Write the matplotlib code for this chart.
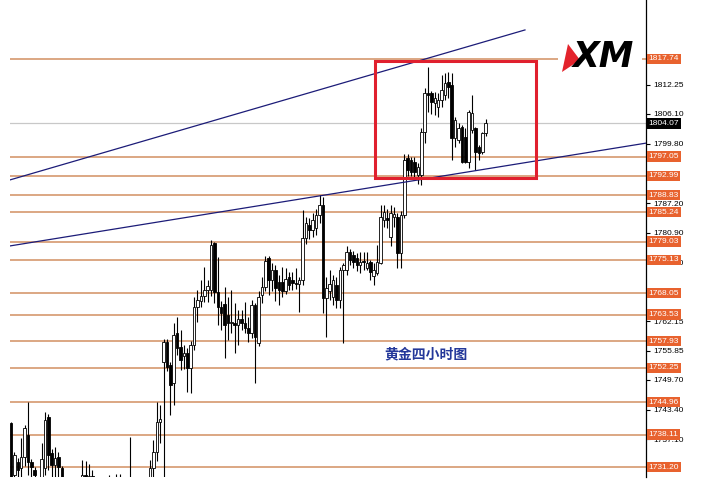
import matplotlib
matplotlib.use("Agg")
import matplotlib.pyplot as plt
from matplotlib.patches import Rectangle, Polygon

# 4h gold candles
opens = [1740.5, 1729.5, 1732.3, 1731.0, 1733.3, 1738.0, 1732.3, 1730.6, 1729.0, 1727.5,
         1731.0, 1741.8, 1734.2, 1731.6, 1733.3, 1731.0, 1727.0, 1725.5, 1726.5, 1725.0,
         1726.0, 1727.0, 1729.5, 1728.5, 1729.3, 1728.3, 1727.0, 1726.0, 1727.5, 1726.5,
         1728.0, 1727.5, 1728.5, 1727.8, 1726.8, 1727.0, 1729.0, 1727.5, 1727.0, 1727.8,
         1727.0, 1727.8, 1731.0, 1734.4, 1740.7, 1753.5, 1757.8, 1752.8, 1749.0, 1759.6,
         1756.6, 1754.7, 1755.4, 1752.2, 1757.1, 1765.1, 1766.4, 1767.5, 1768.8, 1768.8,
         1778.7, 1768.3, 1765.1, 1765.7, 1763.4, 1761.7, 1761.8, 1761.3, 1762.6, 1761.8,
         1760.7, 1759.6, 1765.6, 1757.6, 1767.7, 1769.4, 1775.5, 1770.9, 1773.0, 1770.5,
         1770.5, 1768.5, 1771.5, 1770.8, 1770.2, 1770.0, 1770.8, 1779.8, 1782.5, 1781.5,
         1782.0, 1784.7, 1786.8, 1767.0, 1768.5, 1767.2, 1769.8, 1766.6, 1773.0, 1773.0,
         1776.8, 1776.1, 1775.5, 1774.0, 1774.9, 1773.4, 1774.7, 1771.8, 1772.3, 1774.5,
         1783.6, 1784.0, 1780.0, 1784.2, 1784.2, 1776.6, 1784.6, 1796.7, 1796.3, 1795.9,
         1793.1, 1793.1, 1802.3, 1810.5, 1810.5, 1808.4, 1807.5, 1809.0, 1810.1, 1812.9,
         1812.2, 1801.0, 1800.6, 1803.3, 1801.2, 1795.9, 1802.7, 1803.1, 1799.1, 1798.0,
         1802.0]
highs = [1740.7, 1734.4, 1733.1, 1737.4, 1740.1, 1745.0, 1733.0, 1731.2, 1728.6, 1736.3,
         1742.9, 1742.5, 1735.0, 1735.5, 1734.5, 1731.5, 1728.0, 1727.5, 1727.8, 1727.0,
         1728.0, 1732.6, 1732.5, 1731.8, 1730.6, 1728.5, 1728.0, 1728.2, 1728.2, 1729.5,
         1728.2, 1729.8, 1729.8, 1728.2, 1728.2, 1737.6, 1729.0, 1728.0, 1728.2, 1728.2,
         1728.0, 1732.7, 1736.9, 1745.0, 1744.3, 1758.3, 1758.3, 1753.5, 1761.8, 1763.0,
         1760.2, 1757.0, 1756.5, 1758.0, 1767.2, 1768.7, 1770.9, 1773.6, 1770.9, 1779.3,
         1779.0, 1775.8, 1766.5, 1769.4, 1767.2, 1768.7, 1766.0, 1764.5, 1764.5, 1766.2,
         1763.0, 1766.6, 1766.0, 1768.5, 1771.5, 1776.0, 1775.9, 1774.5, 1774.0, 1772.0,
         1773.6, 1773.4, 1772.5, 1772.5, 1773.4, 1771.5, 1785.7, 1784.2, 1784.0, 1785.0,
         1786.0, 1788.9, 1788.5, 1771.5, 1773.0, 1772.0, 1771.5, 1773.6, 1774.5, 1778.1,
         1777.4, 1777.0, 1776.6, 1776.8, 1776.8, 1776.8, 1775.1, 1774.5, 1778.3, 1786.8,
         1786.8, 1786.0, 1786.8, 1786.3, 1785.1, 1785.5, 1797.5, 1797.5, 1797.0, 1796.9,
         1795.7, 1803.2, 1811.5, 1816.0, 1811.0, 1810.7, 1810.5, 1814.3, 1814.8, 1815.0,
         1814.8, 1805.5, 1804.2, 1803.8, 1803.2, 1806.9, 1810.1, 1803.3, 1799.5, 1802.3,
         1805.0]
lows = [1726.3, 1727.4, 1728.5, 1728.9, 1731.5, 1729.5, 1729.0, 1727.0, 1726.0, 1726.5,
        1729.5, 1730.6, 1729.0, 1728.5, 1727.5, 1725.0, 1724.0, 1724.5, 1723.5, 1723.5,
        1724.5, 1725.5, 1726.0, 1726.5, 1726.0, 1725.0, 1724.5, 1725.0, 1725.5, 1725.0,
        1726.0, 1726.0, 1726.0, 1725.0, 1725.5, 1726.0, 1726.0, 1725.5, 1725.8, 1726.0,
        1726.3, 1727.0, 1728.5, 1732.5, 1736.3, 1729.1, 1751.5, 1742.2, 1744.4, 1755.0,
        1751.8, 1752.0, 1747.1, 1746.9, 1756.0, 1762.0, 1765.1, 1766.2, 1766.2, 1767.5,
        1766.0, 1761.3, 1760.3, 1754.3, 1758.1, 1759.6, 1755.4, 1757.1, 1760.3, 1759.6,
        1757.7, 1758.5, 1749.0, 1756.8, 1766.0, 1768.5, 1767.7, 1768.5, 1766.5, 1765.5,
        1767.2, 1768.0, 1768.8, 1768.8, 1769.0, 1764.0, 1769.8, 1778.5, 1779.5, 1780.0,
        1780.5, 1783.0, 1763.9, 1758.8, 1766.6, 1765.5, 1765.0, 1765.0, 1757.5, 1772.0,
        1774.0, 1773.5, 1772.8, 1772.3, 1773.0, 1773.0, 1770.9, 1769.8, 1772.0, 1774.2,
        1782.1, 1782.0, 1778.0, 1782.1, 1773.4, 1773.4, 1784.0, 1793.0, 1793.0, 1792.5,
        1791.2, 1791.0, 1799.9, 1806.5, 1806.0, 1805.9, 1805.4, 1807.6, 1809.0, 1809.4,
        1796.3, 1799.1, 1799.9, 1795.6, 1795.6, 1794.6, 1802.0, 1794.2, 1796.3, 1797.5,
        1801.5]
closes = [1728.5, 1733.8, 1730.6, 1733.3, 1739.5, 1732.3, 1731.2, 1729.5, 1727.5, 1733.0,
          1741.2, 1733.8, 1731.6, 1733.1, 1731.2, 1727.0, 1725.5, 1726.5, 1725.0, 1726.0,
          1727.0, 1729.5, 1728.5, 1729.3, 1728.3, 1727.0, 1726.0, 1727.5, 1726.5, 1728.0,
          1727.5, 1728.5, 1727.8, 1726.8, 1727.5, 1729.0, 1727.5, 1727.0, 1727.8, 1727.0,
          1727.8, 1731.0, 1734.4, 1740.7, 1741.5, 1757.8, 1752.4, 1748.6, 1759.2, 1756.4,
          1753.9, 1755.4, 1752.2, 1757.1, 1765.1, 1766.6, 1767.5, 1768.8, 1769.5, 1778.3,
          1768.3, 1765.1, 1763.9, 1761.3, 1761.7, 1761.8, 1761.3, 1762.6, 1761.8, 1760.7,
          1759.6, 1765.6, 1758.8, 1767.2, 1769.4, 1775.0, 1770.9, 1773.0, 1769.2, 1768.8,
          1768.5, 1771.0, 1769.8, 1770.2, 1770.0, 1770.8, 1779.8, 1783.0, 1781.5, 1783.6,
          1784.7, 1786.8, 1767.0, 1769.2, 1770.0, 1770.9, 1766.6, 1773.0, 1774.0, 1776.8,
          1775.1, 1774.7, 1774.0, 1774.7, 1774.7, 1774.5, 1772.6, 1773.0, 1774.7, 1784.2,
          1785.3, 1783.6, 1785.0, 1784.9, 1776.6, 1784.6, 1796.3, 1794.2, 1793.8, 1793.8,
          1794.9, 1802.3, 1810.5, 1810.0, 1808.6, 1809.4, 1809.0, 1811.2, 1812.6, 1811.8,
          1801.0, 1804.8, 1803.1, 1795.9, 1795.9, 1806.5, 1806.3, 1798.0, 1797.8, 1802.0,
          1804.1]

levels = [1817.74, 1797.05, 1792.99, 1788.83, 1785.24, 1779.03, 1775.13, 1768.05,
          1763.53, 1757.93, 1752.25, 1744.96, 1738.11, 1731.20]
price_ticks = [1812.25, 1806.10, 1799.80, 1793.65, 1787.20, 1780.90, 1774.60,
               1768.45, 1762.15, 1755.85, 1749.70, 1743.40, 1737.10, 1730.80]
# ticks whose labels sit fully under a level box in the picture
hidden_ticks = [1793.65, 1768.45, 1730.80]
last_price = 1804.07

# trend lines (bar index, price)
upper_trend = ([-0.3, 151.6], [1792.1, 1823.9])
lower_trend = ([-0.3, 187.3], [1778.1, 1799.9])
box_x = (107.4, 154.9)
box_y = (1792.5, 1817.3)

fig = plt.figure(figsize=(7.02, 4.98), dpi=100)
ax = fig.add_axes([10 / 702, 21 / 498, 636 / 702, 477 / 498])

idx = list(range(len(opens)))
ax.vlines(idx, lows, highs, color="black", lw=0.8, zorder=3)
for i in idx:
    o, c = opens[i], closes[i]
    up = c >= o
    ax.bar(i, max(abs(c - o), 0.25), bottom=min(o, c), width=0.75,
           color="white" if up else "black", edgecolor="black", lw=0.6, zorder=4)

for lv in levels:
    ax.axhline(lv, color="#d9a07a", lw=1.3, zorder=1)
    ax.text(1.004, lv, f"{lv:.2f}", transform=ax.get_yaxis_transform(),
            ha="left", va="center", fontsize=6, color="white", family="Liberation Sans",
            bbox=dict(boxstyle="square,pad=0.2", fc="#e8622e", ec="none"), zorder=6, clip_on=False)

ax.axhline(last_price, color="#c8c8c8", lw=0.9, zorder=1)
ax.text(1.004, last_price, f"{last_price:.2f}", transform=ax.get_yaxis_transform(),
        ha="left", va="center", fontsize=6, color="white", family="Liberation Sans",
        bbox=dict(boxstyle="square,pad=0.2", fc="black", ec="none"), zorder=6, clip_on=False)

ax.plot(*upper_trend, color="#1c1c78", lw=0.9, zorder=5)
ax.plot(*lower_trend, color="#1c1c78", lw=0.9, zorder=5)
ax.add_patch(Rectangle((box_x[0], box_y[0]), box_x[1] - box_x[0], box_y[1] - box_y[0],
                       fill=False, ec="#e0202e", lw=2.2, zorder=6))

ax.text(122.4, 1755.0, "黄金四小时图", ha="center", va="center", fontsize=10,
        fontweight="bold", color="#24389a", family=["Noto Sans CJK SC", "DejaVu Sans"], zorder=7)

ax.set_xlim(-0.3, 187.3)
ax.set_ylim(1729.1, 1830.25)
ax.set_xticks([])
ax.yaxis.tick_right()
ax.set_yticks(price_ticks)
ax.set_yticklabels(["" if t in hidden_ticks else f"{t:.2f}" for t in price_ticks])
ax.tick_params(axis="y", length=3, width=0.8, pad=2, labelsize=6)
for lab in ax.get_yticklabels():
    lab.set_family("Liberation Sans")
for s in ["left", "top", "bottom"]:
    ax.spines[s].set_visible(False)
ax.spines["right"].set_linewidth(0.9)

# XM logo
fig.patches.append(Rectangle((558 / 702, 1 - 78 / 498), 84 / 702, 40 / 498,
                             transform=fig.transFigure, fc="white", ec="none", zorder=5))
fig.patches.append(Polygon([(568 / 702, 1 - 44 / 498), (580 / 702, 1 - 60 / 498),
                            (562 / 702, 1 - 72 / 498)], closed=True,
                           transform=fig.transFigure, fc="#e3232c", ec="none", zorder=6))
fig.text(573 / 702, 1 - 57 / 498, "XM", fontsize=25, fontweight="bold", style="italic",
         ha="left", va="center", color="black", zorder=7)

fig.savefig("out.png", dpi=100)
